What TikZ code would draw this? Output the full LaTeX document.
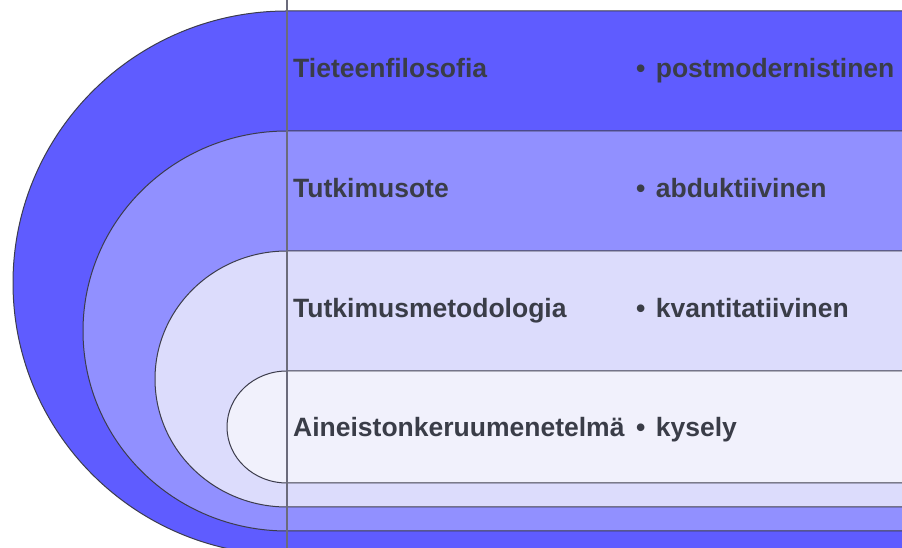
\documentclass[tikz,border=0pt]{standalone}
\usepackage{fontspec}
\setsansfont{Liberation Sans}
\usepackage{tikz}
\definecolor{layerone}{HTML}{5F5CFF}
\definecolor{layertwo}{HTML}{9190FF}
\definecolor{layerthree}{HTML}{DCDCFC}
\definecolor{layerfour}{HTML}{F1F1FC}
\definecolor{layerline}{HTML}{3C3C4C}
\definecolor{layertext}{HTML}{3A3D48}
\definecolor{layerrule}{HTML}{6B6B7B}
\tikzset{
  layer/.style={draw=layerline,line width=1pt},
  lbl/.style={anchor=base west,inner sep=0pt,text=layertext}
}
\newcommand{\itembul}{•\hspace{3pt} }

\begin{document}
\begin{tikzpicture}[x=1pt,y=1pt,font=\sffamily\bfseries\fontsize{26.5}{30}\selectfont]
  \useasboundingbox (0,0) rectangle (902,548);
  \clip (0,0) rectangle (902,548);
  % nested layers, outer to inner: top/bottom/x radius/y radius/fill
  \foreach \ytop/\ybot/\rx/\ry/\col in
    {537/-7/274/272/layerone,417/17/204/200/layertwo,
     297/41/132/128/layerthree,177/65/60/56/layerfour}
    \draw[layer,fill=\col] (910,\ytop) -- (287,\ytop)
      arc[start angle=90,end angle=270,x radius=\rx,y radius=\ry]
      -- (910,\ybot) -- cycle;
  \draw[layerrule,line width=1.2pt] (287,0) -- (287,548);
  \node[lbl] (phil) at (293,470) {Tieteenfilosofia};
  \node[lbl] (philval) at (636,470) {\itembul postmodernistinen};
  \node[lbl] (ote) at (293,350) {Tutkimusote};
  \node[lbl] (oteval) at (636,350) {\itembul abduktiivinen};
  \node[lbl] (meth) at (293,230) {Tutkimusmetodologia};
  \node[lbl] (methval) at (636,230) {\itembul kvantitatiivinen};
  \node[lbl] (data) at (293,111) {Aineistonkeruumenetelmä};
  \node[lbl] (dataval) at (636,111) {\itembul kysely};
\end{tikzpicture}
\end{document}
